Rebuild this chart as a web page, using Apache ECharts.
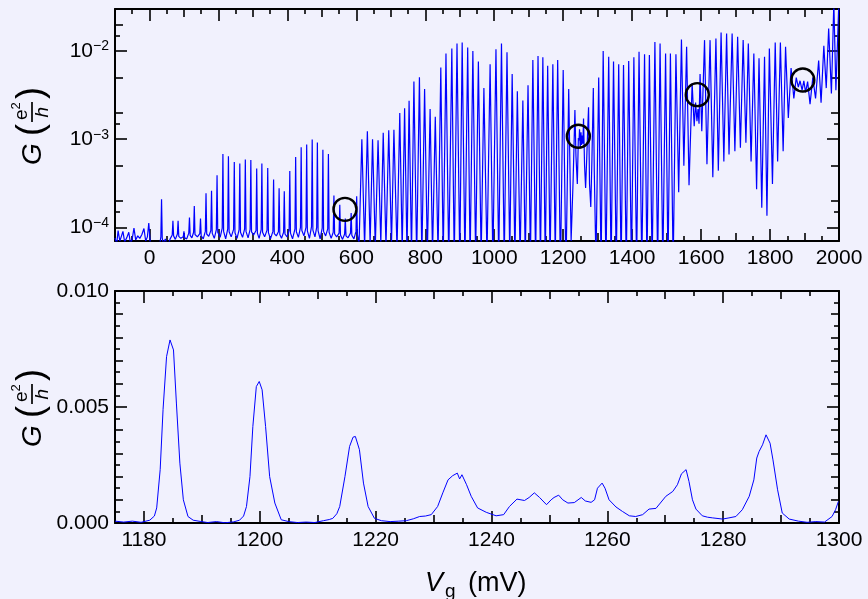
<!DOCTYPE html>
<html><head><meta charset="utf-8">
<script src="https://cdn.jsdelivr.net/npm/echarts@6/dist/echarts.min.js"></script>
<style>html,body{margin:0;padding:0;background:#f1f1fd}#c{width:868px;height:599px}</style>
</head><body><div id="c"></div><script>
const FONT = "'Liberation Sans', Arial, Helvetica, sans-serif";

// ---------- top panel: G vs Vg (log scale) ----------
const topV = [
  -100,-95,-91,-86,-82,-77,-72,-66,-60,-55,
  -50,-45,-40,-34,-28,-22,-16,-11,-6,-2,
  3,12,22,30,33,35,37,40,46,52,
  60,66,68,70,75,81,83,85,91,98,
  100,102,108,114,116,118,123,128,130,132,
  139,146,148,150,156,162,164,166,172,178,
  180,182,188,194,196,198,205,211,213,215,
  221,227,229,231,237,244,246,248,254,260,
  262,264,270,276,278,280,286,292,294,296,
  302,309,311,313,318,324,326,328,334,341,
  343,345,351,358,360,362,368,374,376,378,
  383,389,391,393,399,405,407,409,415,422,
  424,426,432,438,440,442,448,454,456,458,
  464,470,472,474,480,485,487,489,495,501,
  503,505,511,517,519,521,527,533,535,537,
  543,550,552,554,560,566,568,570,576,583,
  585,587,593,599,601,603,608,616,624,632,
  640,647,655,663,671,678,686,694,702,709,
  718,726,733,740,747,753,760,767,775,783,
  790,798,806,814,821,829,837,845,852,860,
  868,877,884,892,900,907,915,923,930,938,
  946,954,962,970,979,988,996,1005,1013,1021,
  1029,1037,1045,1052,1060,1067,1075,1083,1090,1098,
  1105,1112,1120,1127,1134,1141,1148,1155,1162,1170,
  1177,1184,1192,1200,1208,1216,1223,1229,1234,1237,
  1241,1244,1246,1247.4,1249.5,1251.6,1253.2,1255.5,1257.2,1259,
  1262,1265,1268.4,1271.3,1273.6,1276.4,1280,1283.3,1287.4,1290.2,
  1295,1303,1310,1316,1324,1332,1339,1346,1354,1361,
  1368,1375,1383,1390,1398,1405,1413,1420,1428,1436,
  1443,1450,1458,1466,1474,1481,1489,1497,1504,1511,
  1519,1527,1535,1543,1550,1558,1565,1574,1580,1584,
  1588,1591,1594,1597,1602,1610,1617,1626,1634,1643,
  1650,1658,1666,1674,1681,1690,1698,1706,1714,1722,
  1730,1737,1745,1753,1761,1768,1776,1784,1791,1798,
  1807,1815,1822,1830,1838,1845,1853,1861,1869,1876,
  1882,1887,1893,1898,1903,1909,1916,1924,1932,1941,
  1948,1956,1963,1970,1978,1985,1991,2000
];
const topG = [
  7.6e-5,6.5e-5,9.2e-5,7.0e-5,7.8e-5,9.0e-5,6.8e-5,7.6e-5,8.8e-5,6.5e-5,
  7.4e-5,9.8e-5,7.2e-5,8.0e-5,7.5e-5,8.3e-5,9.7e-5,7.0e-5,7.8e-5,1.12e-4,
  6.0e-5,5.5e-5,5.5e-5,6.5e-5,7.8e-5,2.08e-4,7.6e-5,6.5e-5,7.4e-5,6.0e-5,
  7.4e-5,8.2e-5,1.19e-4,8.0e-5,7.3e-5,8.4e-5,1.19e-4,7.9e-5,7.5e-5,7.8e-5,
  9.0e-5,7.6e-5,7.4e-5,8.6e-5,1.29e-4,8.1e-5,7.6e-5,8.8e-5,1.75e-4,8.3e-5,
  7.8e-5,8.5e-5,1.26e-4,8.0e-5,7.4e-5,9.0e-5,2.43e-4,8.4e-5,7.9e-5,9.2e-5,
  2.6e-4,8.6e-5,7.5e-5,9.4e-5,3.9e-4,8.8e-5,7.7e-5,9.8e-5,6.8e-4,9.0e-5,
  7.4e-5,9.6e-5,6.4e-4,8.9e-5,7.8e-5,9.5e-5,5.5e-4,8.7e-5,7.5e-5,9.4e-5,
  5.3e-4,8.8e-5,7.7e-5,9.6e-5,5.9e-4,9.0e-5,7.6e-5,9.5e-5,5.8e-4,8.9e-5,
  8.2e-5,9.2e-5,4.66e-4,8.6e-5,7.5e-5,9.4e-5,5.3e-4,8.8e-5,7.8e-5,9.3e-5,
  4.7e-4,8.7e-5,7.4e-5,9.0e-5,3.5e-4,8.5e-5,8.0e-5,8.9e-5,2.77e-4,8.3e-5,
  7.5e-5,8.8e-5,2.56e-4,8.4e-5,7.8e-5,9.2e-5,4.35e-4,8.6e-5,7.4e-5,9.6e-5,
  6.3e-4,8.9e-5,7.7e-5,1.0e-4,8.1e-4,9.2e-5,8.0e-5,1.0e-4,8.7e-4,9.1e-5,
  7.5e-5,1.02e-4,9.9e-4,9.3e-5,7.8e-5,1.0e-4,9.2e-4,9.2e-5,7.4e-5,9.8e-5,
  7.6e-4,9.0e-5,8.0e-5,9.6e-5,6.8e-4,8.8e-5,7.5e-5,8.8e-5,2.3e-4,8.4e-5,
  7.8e-5,8.6e-5,1.8e-4,8.2e-5,7.3e-5,8.4e-5,1.26e-4,8.0e-5,7.6e-5,8.6e-5,
  1.45e-4,8.1e-5,7.4e-5,9.0e-5,2.25e-4,8.4e-5,6.5e-5,1.0e-3,6.0e-5,1.23e-3,
  6.5e-5,1.0e-3,6.0e-5,9.7e-4,6.5e-5,1.18e-3,6.0e-5,1.26e-3,6.5e-5,1.28e-3,
  5.5e-5,1.98e-3,5.5e-5,2.25e-3,5.0e-5,2.73e-3,5.0e-5,4.5e-3,4.5e-5,5.05e-3,
  4.5e-5,3.7e-3,5.0e-5,2.2e-3,5.0e-5,1.8e-3,5.0e-5,6.5e-3,4.5e-5,9.4e-3,
  4.0e-5,1.07e-2,4.0e-5,1.22e-2,4.0e-5,1.25e-2,4.0e-5,1.1e-2,4.0e-5,1.0e-2,
  4.5e-5,7.6e-3,4.5e-5,3.8e-3,4.5e-5,7.1e-3,4.0e-5,1.05e-2,4.0e-5,1.22e-2,
  4.0e-5,9.7e-3,4.5e-5,5.5e-3,4.5e-5,3.5e-3,4.5e-5,2.75e-3,4.5e-5,4.1e-3,
  4.5e-5,7.9e-3,4.0e-5,8.8e-3,4.0e-5,8.5e-3,4.0e-5,6.8e-3,4.0e-5,7.1e-3,
  4.5e-5,7.9e-3,3.0e-5,6.1e-3,3.0e-5,3.7e-3,7.0e-5,3.6e-4,2.15e-3,6.5e-4,
  3.1e-4,1.03e-3,9.7e-4,1.3e-3,7.9e-4,1.2e-3,8.6e-4,1.1e-3,8.9e-4,1.72e-3,
  5.0e-4,2.8e-4,6.3e-4,1.36e-3,2.3e-3,3.1e-4,1.7e-4,5.7e-4,3.8e-3,4.3e-4,
  4.0e-5,5.0e-3,3.5e-5,1.0e-2,3.5e-5,8.6e-3,3.5e-5,7.6e-3,3.5e-5,7.1e-3,
  3.5e-5,6.95e-3,3.5e-5,7.7e-3,3.5e-5,8.5e-3,3.5e-5,9.8e-3,3.5e-5,9.2e-3,
  3.5e-5,9.0e-3,3.5e-5,1.27e-2,3.5e-5,1.22e-2,3.5e-5,9.4e-3,3.5e-5,9.4e-3,
  3.5e-5,9.2e-3,2.5e-4,1.35e-2,5.0e-4,1.12e-2,3.0e-4,4.3e-3,1.4e-3,2.6e-3,
  1.6e-3,2.2e-3,1.5e-3,5.5e-3,1.23e-3,1.33e-2,5.2e-4,1.33e-2,3.7e-4,1.39e-2,
  4.4e-4,1.62e-2,5.6e-4,1.58e-2,6.7e-4,1.58e-2,7.3e-4,1.45e-2,8.0e-4,1.33e-2,
  9.1e-4,1.22e-2,5.6e-4,9.4e-3,2.7e-4,8.3e-3,1.67e-4,8.6e-3,1.35e-4,1.07e-2,
  3.1e-4,1.25e-2,5.6e-4,1.25e-2,7.3e-4,1.12e-2,1.74e-3,6.4e-3,2.9e-3,5.0e-3,
  3.9e-3,4.6e-3,3.6e-3,4.6e-3,3.4e-3,4.5e-3,2.5e-3,5.0e-3,2.9e-3,7.8e-3,
  2.6e-3,1.15e-2,3.8e-3,1.8e-2,3.3e-3,3.5e-2,3.6e-3,4.0e-2
];
// circled features
const circleV = [567, 1244, 1589, 1895];
const circleG = [1.6e-4, 1.08e-3, 3.2e-3, 4.7e-3];

// ---------- bottom panel: zoom 1175-1300 mV (linear) ----------
const zoomV = [
  1175.0,1176.5,1178.0,1179.5,1181.0,1181.8,1182.2,1182.8,1183.3,1183.9,
  1184.5,1185.1,1185.6,1186.2,1186.8,1187.6,1188.5,1189.7,1191.0,1192.5,
  1194.0,1195.5,1196.5,1197.2,1197.7,1198.3,1198.8,1199.4,1199.9,1200.4,
  1201.0,1201.7,1202.6,1203.7,1205.0,1206.5,1208.0,1209.5,1211.0,1212.0,
  1212.6,1213.3,1213.8,1214.7,1215.5,1216.1,1216.5,1217.2,1217.9,1218.7,
  1219.8,1221.0,1222.5,1224.0,1225.3,1226.5,1227.6,1228.6,1229.6,1230.7,
  1231.6,1232.5,1233.3,1234.1,1234.5,1234.9,1235.7,1236.5,1237.6,1239.1,
  1240.8,1242.1,1243.1,1244.4,1245.7,1246.5,1247.4,1248.3,1249.5,1250.3,
  1250.8,1251.6,1252.3,1253.2,1254.3,1255.5,1256.2,1257.2,1257.8,1258.3,
  1259.1,1259.6,1260.3,1261.5,1262.6,1263.8,1264.9,1266.1,1267.2,1268.4,
  1270.1,1271.3,1272.1,1272.8,1273.6,1274.1,1274.7,1275.3,1276.4,1277.3,
  1278.2,1279.9,1281.0,1282.2,1283.3,1284.5,1285.3,1285.8,1286.2,1286.8,
  1287.4,1288.1,1288.6,1289.4,1290.2,1291.4,1293.0,1294.5,1296.0,1297.5,
  1298.8,1299.4,1299.9
];
const zoomG = [
  8e-5,4e-5,8e-5,3e-5,1.2e-4,3e-4,6.5e-4,2.3e-3,4.9e-3,7.17e-3,
  7.89e-3,7.46e-3,5.17e-3,2.58e-3,1.0e-3,2.8e-4,1.2e-4,7e-5,2e-5,6e-5,
  1e-5,5e-5,1.2e-4,3e-4,7.1e-4,2.0e-3,4.16e-3,5.88e-3,6.1e-3,5.74e-3,
  4.16e-3,2.0e-3,8.6e-4,1.4e-4,6e-5,2e-5,4e-5,2e-5,1.0e-4,1.5e-4,
  2e-4,4e-4,7.1e-4,2.0e-3,3.3e-3,3.7e-3,3.73e-3,3.16e-3,1.72e-3,7.1e-4,
  2e-4,1.0e-4,6e-5,8e-5,1e-4,1.8e-4,2.8e-4,3e-4,3.6e-4,7.1e-4,
  1.3e-3,1.86e-3,2.04e-3,2.15e-3,1.9e-3,2.08e-3,1.65e-3,1.15e-3,6.5e-4,4.6e-4,
  3.1e-4,3.6e-4,7.1e-4,1.03e-3,9.7e-4,1.1e-3,1.3e-3,1.1e-3,7.9e-4,1.0e-3,
  1.1e-3,1.2e-3,1.0e-3,8.6e-4,8.8e-4,1.1e-3,9.5e-4,8.9e-4,1.0e-3,1.5e-3,
  1.72e-3,1.5e-3,1.0e-3,6.9e-4,5e-4,3.1e-4,2.8e-4,3.6e-4,6e-4,6.3e-4,
  1.15e-3,1.36e-3,1.65e-3,2.12e-3,2.3e-3,1.79e-3,1.0e-3,6e-4,3.1e-4,2.5e-4,
  2.2e-4,1.7e-4,2.2e-4,2.8e-4,5.7e-4,1.15e-3,1.86e-3,2.8e-3,3.08e-3,3.37e-3,
  3.8e-3,3.44e-3,2.72e-3,1.43e-3,4.3e-4,1.7e-4,8e-5,3e-5,6e-5,4e-5,
  2.8e-4,5.7e-4,9.3e-4
];

// ---------- ticks & labels ----------
const topXLong = [0,200,400,600,800,1000,1200,1400,1600,1800,2000];
const topXMid = [-100,100,300,500,700,900,1100,1300,1500,1700,1900];
const topXShort = [-50,50,150,250,350,450,550,650,750,850,950,1050,1150,1250,1350,1450,1550,1650,1750,1850,1950];
const topXLabels = [0,200,400,600,800,1000,1200,1400,1600,1800,2000];
const topYLong = [1e-4,1e-3,1e-2];
const topYMid = [2e-4,5e-4,2e-3,5e-3,2e-2];
const topYShort = [1.5e-4,1.5e-3,1.5e-2];
const topYLabels = [1e-4,1e-3,1e-2];
const botXLong = [1180,1200,1220,1240,1260,1280,1300];
const botXMid = [1190,1210,1230,1250,1270,1290];
const botXShort = [1175,1185,1195,1205,1215,1225,1235,1245,1255,1265,1275,1285,1295];
const botXLabels = [1180,1200,1220,1240,1260,1280,1300];
const botYLong = [0,0.005,0.010];
const botYMid = [0.001,0.002,0.003,0.004,0.006,0.007,0.008,0.009];
const botYShort = [0.0005,0.0015,0.0025,0.0035,0.0045,0.0055,0.0065,0.0075,0.0085,0.0095];
const botYLabels = [0,0.005,0.010];

const LEN = {long: 12, mid: 8, short: 5};

function mkAxis(grid, pos, scaleOpt, ticks, len, labels, fmt, showLine) {
  return Object.assign({
    gridIndex: grid, position: pos, silent: true,
    axisLine: {show: showLine, onZero: false, lineStyle: {color: '#000', width: 2}},
    axisTick: {show: true, inside: true, length: len, customValues: ticks,
               lineStyle: {color: '#000', width: 1.6}},
    axisLabel: labels ? {
      show: true, customValues: labels, formatter: fmt, color: '#000',
      fontSize: 21, fontFamily: FONT, margin: 6, lineHeight: 23,
      rich: {sup: {fontSize: 14, lineHeight: 14, verticalAlign: 'top', fontFamily: FONT, color: '#000'}}
    } : {show: false},
    splitLine: {show: false}, minorTick: {show: false}, minorSplitLine: {show: false}
  }, scaleOpt);
}

function axesSet(grid, sides, scaleOpt, long, mid, short, labels, fmt) {
  const out = [];
  out.push(mkAxis(grid, sides[0], scaleOpt, long, LEN.long, labels, fmt, true));
  out.push(mkAxis(grid, sides[0], scaleOpt, mid, LEN.mid, null, null, false));
  out.push(mkAxis(grid, sides[0], scaleOpt, short, LEN.short, null, null, false));
  out.push(mkAxis(grid, sides[1], scaleOpt, long, LEN.long, null, null, true));
  out.push(mkAxis(grid, sides[1], scaleOpt, mid, LEN.mid, null, null, false));
  out.push(mkAxis(grid, sides[1], scaleOpt, short, LEN.short, null, null, false));
  return out;
}

const topXScale = {type: 'value', min: -100, max: 2000};
const topYScale = {type: 'log', logBase: 10, min: 7e-5, max: 0.03};
const botXScale = {type: 'value', min: 1175, max: 1300};
const botYScale = {type: 'value', min: 0, max: 0.010};

const logFmt = v => '10{sup|\u2212' + Math.round(-Math.log10(v)) + '}';
const linFmt = v => Number(v).toFixed(3);
const intFmt = v => String(Math.round(v));

const xAxes = [].concat(
  axesSet(0, ['bottom', 'top'], topXScale, topXLong, topXMid, topXShort, topXLabels, intFmt),
  axesSet(1, ['bottom', 'top'], botXScale, botXLong, botXMid, botXShort, botXLabels, intFmt)
);
const yAxes = [].concat(
  axesSet(0, ['left', 'right'], topYScale, topYLong, topYMid, topYShort, topYLabels, logFmt),
  axesSet(1, ['left', 'right'], botYScale, botYLong, botYMid, botYShort, botYLabels, linFmt)
);

function yName(cy) {
  const t = (txt, x, y, size, italic) => ({
    type: 'text', x: x, y: y,
    style: {text: txt, fontSize: size, fontFamily: FONT, fontStyle: italic ? 'italic' : 'normal',
            fill: '#000', align: 'left', verticalAlign: 'middle'}
  });
  return {
    type: 'group', x: 32, y: cy, rotation: Math.PI / 2, silent: true,
    children: [
      t('G', -40, 1, 28, true),
      t('(', -11, 0, 36, false),
      t('e', 5, -10, 19, false),
      t('2', 15.5, -16, 13, false),
      {type: 'line', shape: {x1: 3, y1: 0, x2: 23, y2: 0}, style: {stroke: '#000', lineWidth: 1.7}},
      t('h', 7.5, 11, 19, true),
      t(')', 26, 0, 36, false)
    ]
  };
}

const xName = {
  type: 'group', x: 0, y: 0, silent: true,
  children: [
    {type: 'text', x: 425, y: 597, style: {text: 'V', fontSize: 27, fontFamily: FONT, fontStyle: 'italic', fill: '#000', align: 'left', verticalAlign: 'bottom'}},
    {type: 'text', x: 445, y: 601, style: {text: 'g', fontSize: 19, fontFamily: FONT, fill: '#000', align: 'left', verticalAlign: 'bottom'}},
    {type: 'text', x: 468, y: 597, style: {text: '(mV)', fontSize: 27, fontFamily: FONT, fill: '#000', align: 'left', verticalAlign: 'bottom'}}
  ]
};

const chart = echarts.init(document.getElementById('c'), null, {renderer: 'canvas'});
chart.setOption({
  backgroundColor: '#f1f1fd',
  animation: false,
  grid: [
    {left: 115, right: 29, top: 9, height: 232},
    {left: 115, right: 29, top: 291, height: 232}
  ],
  xAxis: xAxes,
  yAxis: yAxes,
  series: [
    {
      type: 'line', xAxisIndex: 0, yAxisIndex: 0, symbol: 'none', clip: true,
      lineStyle: {color: '#0000ff', width: 1.2}, silent: true, z: 2,
      data: topV.map((v, i) => [v, topG[i]])
    },
    {
      type: 'scatter', xAxisIndex: 0, yAxisIndex: 0, symbol: 'circle', symbolSize: 23, silent: true, z: 5,
      itemStyle: {color: 'rgba(0,0,0,0)', borderColor: '#000', borderWidth: 2.4, opacity: 1},
      data: circleV.map((v, i) => [v, circleG[i]])
    },
    {
      type: 'line', xAxisIndex: 6, yAxisIndex: 6, symbol: 'none', clip: true,
      lineStyle: {color: '#0000ff', width: 1}, silent: true, z: 2,
      data: zoomV.map((v, i) => [v, zoomG[i]])
    }
  ],
  graphic: [yName(125), yName(407), xName]
});
</script></body></html>
